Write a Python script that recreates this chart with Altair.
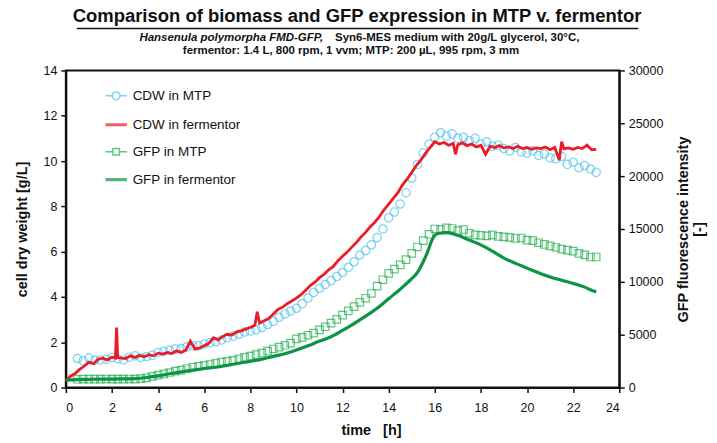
import altair as alt
import pandas as pd

# ---------------- data ----------------
SERIES = ["CDW in MTP", "CDW in fermentor", "GFP in MTP", "GFP in fermentor"]
COLORS = ["#45c1ec", "#ec1c24", "#1fae4b", "#0b9444"]

t_mtp = [0.5 + 0.25 * i for i in range(91)]
cdw_mtp = [1.28, 1.18, 1.30, 1.20, 1.22, 1.25, 1.33, 1.27, 1.22, 1.34, 1.40, 1.33,
           1.36, 1.42, 1.55, 1.60, 1.64, 1.70, 1.72, 1.80, 1.86, 1.84, 1.92, 1.98,
           2.02, 2.10, 2.20, 2.27, 2.35, 2.45, 2.50, 2.55, 2.65, 2.78, 2.92, 3.10,
           3.25, 3.38, 3.50, 3.70, 3.95, 4.20, 4.38, 4.55, 4.72, 4.90, 5.08, 5.30,
           5.55, 5.85, 6.05, 6.30, 6.62, 7.00, 7.50, 7.75, 8.10, 8.60, 9.25, 9.85,
           10.35, 10.75, 11.05, 11.25, 11.10, 11.20, 11.00, 11.05, 10.90, 11.00, 10.75, 10.85,
           10.65, 10.70, 10.55, 10.45, 10.60, 10.40, 10.35, 10.45, 10.25, 10.30, 10.15, 10.10,
           10.20, 9.85, 9.95, 9.70, 9.80, 9.65, 9.50]
gfp_mtp = [780, 800, 800, 790, 800, 810, 800, 790, 800, 810, 800, 850,
           920, 1050, 1180, 1300, 1420, 1550, 1650, 1780, 1920, 2000, 2100, 2180,
           2280, 2400, 2480, 2580, 2720, 2850, 2980, 3120, 3250, 3450, 3650, 3820,
           4000, 4200, 4600, 4750, 4950, 5150, 5450, 5750, 6100, 6450, 6850, 7250,
           7650, 8050, 8450, 8900, 9600, 10200, 10800, 11200, 11600, 12100, 12700, 13300,
           13900, 14500, 15000, 14950, 15100, 15050, 14850, 14950, 14600, 14450, 14400, 14350,
           14450, 14300, 14250, 14200, 14100, 14150, 13950, 13900, 13700, 13550, 13400, 13250,
           13100, 13000, 12900, 12700, 12550, 12350, 12350]

t_ferm_cdw = [0.0, 0.2, 0.4, 0.6, 0.8, 1.0, 1.2, 1.4, 1.6, 1.8, 2.0, 2.15, 2.2, 2.25, 2.4,
              2.6, 2.8, 3.0, 3.2, 3.4, 3.6, 3.8, 4.0, 4.2, 4.4, 4.6, 4.8, 5.0, 5.2,
              5.4, 5.6, 5.8, 6.0, 6.2, 6.4, 6.6, 6.8, 7.0, 7.2, 7.4, 7.6, 7.8, 8.0,
              8.2, 8.3, 8.4, 8.6, 8.8, 9.0, 9.2, 9.4, 9.6, 9.8, 10.0, 10.2, 10.4, 10.6,
              10.8, 11.0, 11.2, 11.4, 11.6, 11.8, 12.0, 12.2, 12.4, 12.6, 12.8, 13.0,
              13.2, 13.4, 13.6, 13.8, 14.0, 14.2, 14.4, 14.6, 14.8, 15.0, 15.2, 15.4,
              15.6, 15.8, 16.0, 16.2, 16.4, 16.6, 16.8, 16.9, 17.0, 17.2, 17.4, 17.6,
              17.8, 18.0, 18.2, 18.4, 18.6, 18.8, 19.0, 19.2, 19.4, 19.6, 19.8, 20.0,
              20.2, 20.4, 20.6, 20.8, 21.0, 21.2, 21.4, 21.5, 21.6, 21.8, 22.0, 22.2,
              22.4, 22.6, 22.8, 23.0]
cdw_ferm = [0.30, 0.50, 0.62, 0.80, 0.95, 1.12, 1.05, 1.25, 1.30, 1.22, 1.35, 1.30, 2.65, 1.32, 1.30,
            1.28, 1.40, 1.33, 1.42, 1.36, 1.45, 1.40, 1.52, 1.48, 1.55, 1.50, 1.62, 1.55, 1.65,
            2.05, 1.70, 1.75, 1.85, 1.95, 2.20, 2.10, 2.25, 2.35, 2.32, 2.45, 2.50, 2.58, 2.65,
            2.75, 3.35, 2.85, 2.95, 3.05, 3.25, 3.45, 3.55, 3.70, 3.82, 3.95, 4.10, 4.30, 4.50,
            4.65, 4.85, 5.00, 5.20, 5.35, 5.60, 5.80, 5.98, 6.20, 6.40, 6.65, 6.85,
            7.10, 7.30, 7.55, 7.85, 8.10, 8.35, 8.60, 8.95, 9.20, 9.50, 9.80, 10.05,
            10.35, 10.60, 10.85, 10.75, 10.82, 10.70, 10.78, 10.30, 10.72, 10.80, 10.68, 10.75,
            10.62, 10.70, 10.30, 10.65, 10.60, 10.68, 10.58, 10.62, 10.55, 10.65, 10.55, 10.60,
            10.52, 10.58, 10.55, 10.62, 10.50, 10.60, 10.05, 10.85, 10.55, 10.58, 10.52, 10.60,
            10.55, 10.70, 10.50, 10.52]

t_ferm_gfp = [0.0, 0.5, 1.0, 1.5, 2.0, 2.5, 3.0, 3.5, 4.0, 4.5, 5.0, 5.5, 6.0, 6.5, 7.0,
              7.5, 8.0, 8.5, 9.0, 9.5, 10.0, 10.5, 11.0, 11.5, 12.0, 12.5, 13.0, 13.5,
              14.0, 14.5, 15.0, 15.25, 15.5, 15.7, 15.85, 16.0, 16.2, 16.5, 17.0, 17.5,
              18.0, 18.5, 19.0, 19.5, 20.0, 20.5, 21.0, 21.5, 22.0, 22.5, 22.8, 23.0]
gfp_ferm = [700, 750, 780, 800, 800, 820, 850, 950, 1100, 1300, 1480, 1650, 1800, 1920, 2100,
            2300, 2480, 2680, 2950, 3200, 3550, 3950, 4400, 4800, 5400, 6050, 6750, 7500,
            8400, 9300, 10300, 10900, 11900, 12900, 13800, 14400, 14600, 14650, 14400, 13950,
            13500, 12900, 12250, 11750, 11300, 10850, 10450, 10150, 9850, 9500, 9200, 9050]

X_TICKS = list(range(0, 25, 2))
Y_LEFT_TICKS = list(range(0, 15, 2))
Y_RIGHT_TICKS = list(range(0, 30001, 5000))

TITLE = "Comparison of biomass and GFP expression in MTP v. fermentor"
SUB1_ITALIC = "Hansenula polymorpha FMD-GFP,"
SUB1_REST = "Syn6-MES medium with 20g/L glycerol, 30°C,"
SUB2 = "fermentor: 1.4 L, 800 rpm, 1 vvm; MTP: 200 µL, 995 rpm, 3 mm"

# ---------------- frames ----------------
df_cdw_mtp = pd.DataFrame({"t": t_mtp, "v": cdw_mtp, "series": SERIES[0]})
df_cdw_ferm = pd.DataFrame({"t": t_ferm_cdw, "v": cdw_ferm, "series": SERIES[1]})
df_gfp_mtp = pd.DataFrame({"t": t_mtp, "g": gfp_mtp, "series": SERIES[2]})
df_gfp_ferm = pd.DataFrame({"t": t_ferm_gfp, "g": gfp_ferm, "series": SERIES[3]})
df_leg = pd.DataFrame({"series": SERIES})

FONT = "Liberation Sans"
color_scale = alt.Scale(domain=SERIES, range=COLORS)
xenc = alt.X("t:Q", scale=alt.Scale(domain=[0, 24], nice=False),
             axis=alt.Axis(values=X_TICKS, title="time\u00a0\u00a0\u00a0[h]", titleX=306,
                           labelPadding=9, titlePadding=10))
yleft = alt.Y("v:Q", scale=alt.Scale(domain=[0, 14], nice=False),
              axis=alt.Axis(values=Y_LEFT_TICKS, title="cell dry weight [g/L]", orient="left",
                            titlePadding=14))
yright = alt.Y("g:Q", scale=alt.Scale(domain=[0, 30000], nice=False),
               axis=alt.Axis(values=Y_RIGHT_TICKS, format="d", orient="right",
                             title=["GFP fluorescence intensity", "[-]"], titleAngle=270,
                             titlePadding=12, titleBaseline="bottom", titleLineHeight=16))

legend_def = alt.Legend(title=None, orient="none", legendX=38, legendY=14,
                        labelFont=FONT, labelFontSize=13.5, labelColor="#111",
                        symbolSize=460, rowPadding=9, labelOffset=4,
                        symbolFillColor="transparent")
col = alt.Color("series:N", scale=color_scale, legend=legend_def)

cdw_mtp_layer = alt.Chart(df_cdw_mtp).mark_point(shape="circle", size=70, strokeWidth=1.2,
                                                 filled=False).encode(x=xenc, y=yleft, color=col)
cdw_ferm_layer = alt.Chart(df_cdw_ferm).mark_line(strokeWidth=2.8).encode(
    x=xenc, y=yleft, color=col)

paths = [
    "M-1,0H-0.36M0.36,0H1M-0.36,0A0.36,0.36 0 1,0 0.36,0A0.36,0.36 0 1,0 -0.36,0",
    "M-1,0H1",
    "M-1,0H-0.3M0.3,0H1M-0.3,-0.3H0.3V0.3H-0.3Z",
    "M-1,0H1",
]
# legend-only layer (placed off the plot, only feeds the legend)
legend_layer = alt.Chart(df_leg).mark_point(filled=False, opacity=1).encode(
    color=col,
    shape=alt.Shape("series:N", scale=alt.Scale(domain=SERIES, range=paths), legend=legend_def),
    strokeWidth=alt.StrokeWidth("series:N", scale=alt.Scale(type="ordinal", domain=SERIES,
                                                             range=[1.5, 3, 1.5, 3.2]),
                                legend=legend_def),
    x=alt.value(-1000), y=alt.value(-1000),
)

gfp_mtp_layer = alt.Chart(df_gfp_mtp).mark_point(shape="square", size=56, strokeWidth=1.2,
                                                 filled=False).encode(x=xenc, y=yright, color=col)
gfp_ferm_layer = alt.Chart(df_gfp_ferm).mark_line(strokeWidth=3.2, interpolate="monotone").encode(
    x=xenc, y=yright, color=col)

left = alt.layer(cdw_mtp_layer, cdw_ferm_layer)
right = alt.layer(gfp_mtp_layer, gfp_ferm_layer)

# title decorations
def txt(s, x, y, size, style="normal", align="center"):
    return alt.Chart(pd.DataFrame({"s": [s]})).mark_text(
        font=FONT, fontSize=size, fontWeight="bold", fontStyle=style, align=align,
        baseline="alphabetic", color="#111").encode(text="s:N", x=alt.value(x), y=alt.value(y))

title_layers = [
    txt(TITLE, 292, -48.5, 18.5),
    txt(SUB1_ITALIC, 258, -30, 11.5, style="italic", align="right"),
    txt(SUB1_REST, 270, -30, 11.5, align="left"),
    txt(SUB2, 286, -16, 11.5),
]
underline = alt.Chart(pd.DataFrame({"a": [0]})).mark_rule(color="#111", strokeWidth=1.6).encode(
    x=alt.value(11), x2=alt.value(574), y=alt.value(-42))

chart = alt.layer(left, right, legend_layer, underline, *title_layers).resolve_scale(
    y="independent"
).properties(
    width=555, height=318,
    autosize=alt.AutoSizeParams(type="none"),
    padding={"left": 58, "top": 62, "right": 90, "bottom": 56},
).configure_view(
    stroke="#111", strokeWidth=2
).configure_axis(
    grid=False, domainColor="#111", domainWidth=2, tickColor="#111", tickWidth=1.5,
    tickSize=5, labelColor="#111", labelFont=FONT, labelFontSize=12.5, labelPadding=4,
    titleFont=FONT, titleFontSize=14.5, titleFontWeight="bold", titleColor="#111",
)

chart.save("out.html", embed_options={"renderer": "svg", "actions": False})
